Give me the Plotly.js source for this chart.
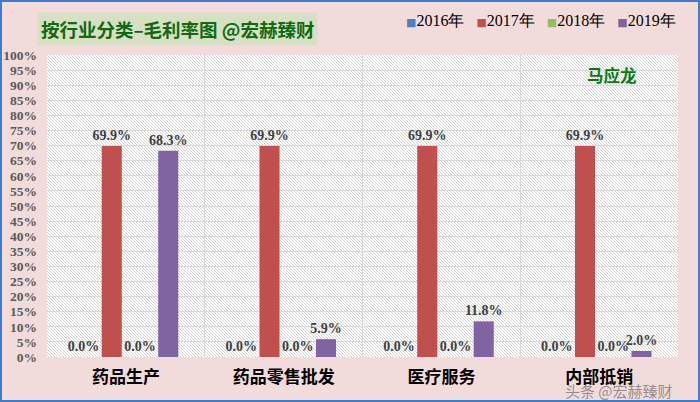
<!DOCTYPE html>
<html>
<head>
<meta charset="utf-8">
<script src="https://cdn.plot.ly/plotly-3.0.1.min.js"></script>
<style>
  body { margin: 0; background: #F2DCDB; }
  #wrap { position: relative; width: 700px; height: 402px; }
  #frame { position: absolute; left: 0; top: 0; width: 700px; height: 402px;
           box-sizing: border-box; border: 2px solid #3D7CC9; pointer-events: none; }
</style>
</head>
<body>
<div id="wrap">
  <div id="plot-container" style="width:700px;height:402px;"></div>
  <div id="frame"></div>
</div>
<script>
// 分类 / 年份 / 毛利率 (%)
const categories = ['药品生产', '药品零售批发', '医疗服务', '内部抵销'];
const years = ['2016年', '2017年', '2018年', '2019年'];
const margin2016 = [0.0, 0.0, 0.0, 0.0];
const margin2017 = [69.9, 69.9, 69.9, 69.9];
const margin2018 = [0.0, 0.0, 0.0, 0.0];
const margin2019 = [68.3, 5.9, 11.8, 2.0];
const yTicks = [0, 5, 10, 15, 20, 25, 30, 35, 40, 45, 50, 55, 60, 65, 70, 75, 80, 85, 90, 95, 100];

const colors = ['#4F81BD', '#C0504D', '#9BBB59', '#8064A2'];
const allSeries = [margin2016, margin2017, margin2018, margin2019];

let traces = [];
allSeries.forEach((vals, i) => {
    traces.push({
        type: 'bar',
        name: years[i],
        x: categories,
        y: vals,
        marker: { color: colors[i] },
        text: vals.map(v => v.toFixed(1) + '%'),
        textposition: 'outside',
        constraintext: 'none',
        cliponaxis: false,
        textfont: { family: 'Liberation Serif', size: 14, color: '#404040', weight: 'bold' },
        hoverinfo: 'skip'
    });
});

// compact legend like Excel: small square right next to the label
const legendText = years.map((y, i) =>
    '<span style="color:' + colors[i] + ';font-family:DejaVu Sans;font-size:11px">■</span>' + y
).join('&nbsp;&nbsp;&nbsp;');

// diagonal hatch for the plot area
const hatch = '<svg xmlns="http://www.w3.org/2000/svg" width="631" height="302">' +
    '<defs><pattern id="h" width="3" height="3" patternUnits="userSpaceOnUse">' +
    '<path d="M-1,-1 L4,4 M-1,2 L1,4 M2,-1 L4,1" stroke="#CCCCCC" stroke-width="0.9"/></pattern></defs>' +
    '<rect width="631" height="302" fill="url(#h)"/></svg>';

const layout = {
    width: 700,
    height: 402,
    margin: { l: 47, r: 22, t: 55, b: 45 },
    paper_bgcolor: '#F2DCDB',
    plot_bgcolor: '#FFFFFF',
    barmode: 'group',
    bargap: 0.284,
    bargroupgap: 0.29,
    showlegend: false,
    xaxis: {
        type: 'category',
        tickson: 'boundaries',
        showgrid: true,
        gridcolor: '#D9D9D9',
        ticks: '',
        ticklabelstandoff: 8,
        tickfont: { family: 'Noto Sans CJK SC', size: 17, color: '#000000', weight: 'bold' },
        showline: false,
        zeroline: false
    },
    yaxis: {
        range: [0, 100],
        tickvals: yTicks,
        ticktext: yTicks.map(t => t + '%'),
        showgrid: true,
        gridcolor: '#D9D9D9',
        zeroline: false,
        ticklabelstandoff: 9,
        tickfont: { family: 'Liberation Serif', size: 13.5, color: '#595959', weight: 'bold' },
        fixedrange: true
    },
    images: [{
        source: 'data:image/svg+xml;charset=utf-8,' + encodeURIComponent(hatch),
        xref: 'paper', yref: 'paper', x: 0, y: 1, sizex: 1, sizey: 1,
        sizing: 'stretch', xanchor: 'left', yanchor: 'top', layer: 'below'
    }],
    annotations: [
        {
            text: '按行业分类–毛利率图 @宏赫臻财',
            xref: 'paper', yref: 'paper', x: -0.016, y: 1.143, xanchor: 'left', yanchor: 'top',
            showarrow: false, bgcolor: '#D8E0C3', borderpad: 3,
            font: { family: 'Noto Sans CJK SC', size: 18.5, color: '#0F6A12', weight: 'bold' }
        },
        {
            text: legendText,
            xref: 'paper', yref: 'paper', x: 1.0, y: 1.113, xanchor: 'right', yanchor: 'middle',
            showarrow: false,
            font: { family: 'Liberation Serif', size: 16, color: '#000000' }
        },
        {
            text: '马应龙',
            xref: 'paper', yref: 'paper', x: 0.895, y: 0.934, xanchor: 'center', yanchor: 'middle',
            showarrow: false,
            font: { family: 'Noto Sans CJK SC', size: 16.5, color: '#087A14', weight: 'bold' }
        },
        {
            text: '头条 @宏赫臻财',
            xref: 'paper', yref: 'paper', x: 0.817, y: -0.07, xanchor: 'left', yanchor: 'top',
            showarrow: false,
            font: { family: 'Noto Sans CJK SC', size: 15, color: 'rgba(70,70,70,0.55)' }
        }
    ]
};

Plotly.newPlot('plot-container', traces, layout, { displayModeBar: false, staticPlot: true });
</script>
</body>
</html>
